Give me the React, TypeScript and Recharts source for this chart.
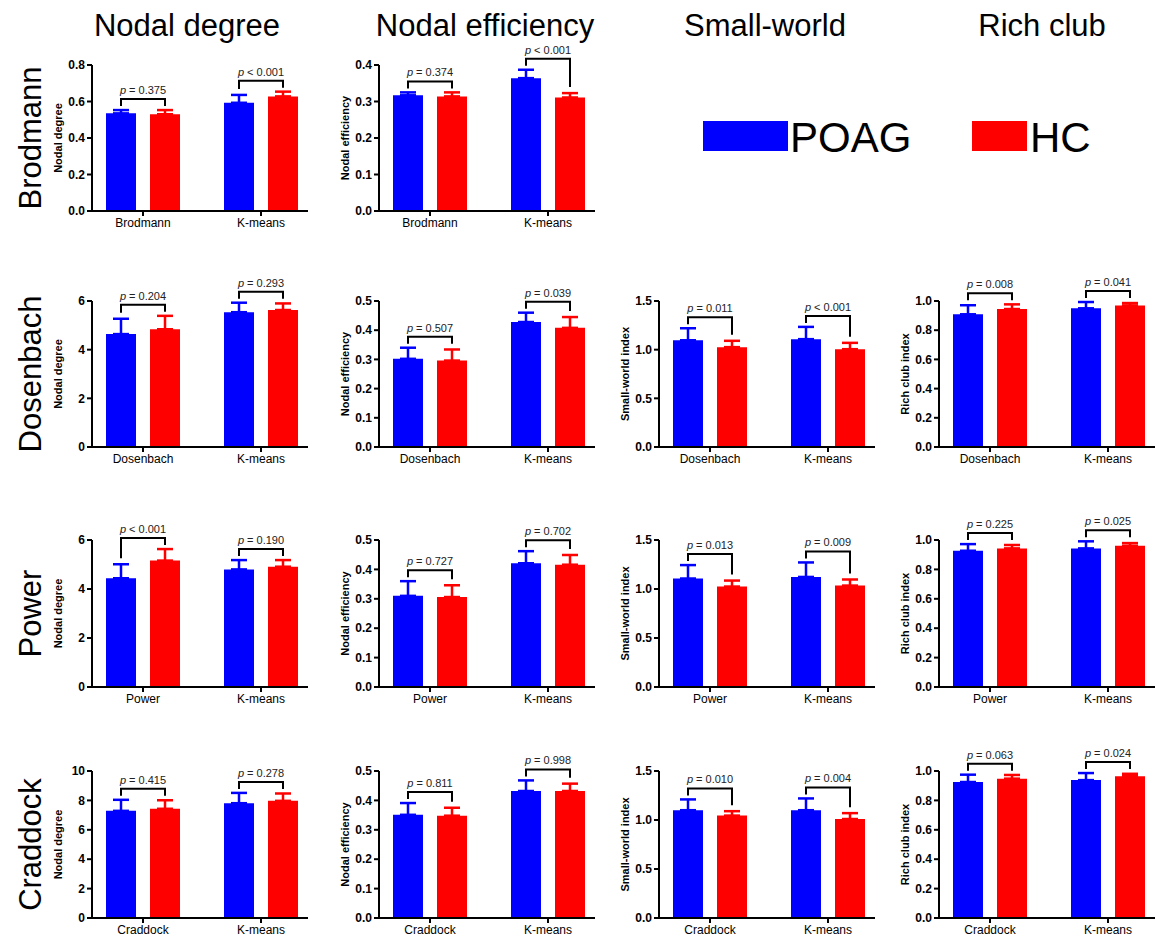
import React from "react";
import { BarChart, Bar, XAxis, YAxis, ErrorBar, Rectangle } from "recharts";

const FONT = "Arial, 'Liberation Sans', Helvetica, sans-serif";
const POAG_COLOR = "#0000ff";
const HC_COLOR = "#ff0000";

// rows of the figure
const atlases = ["Brodmann", "Dosenbach", "Power", "Craddock"];
const columnTitles = ["Nodal degree", "Nodal efficiency", "Small-world", "Rich club"];

// Nodal degree, one [atlas, K-means] pair per row
const degreePoag = [[0.535, 0.593], [4.64, 5.54], [4.44, 4.8], [7.29, 7.81]];
const degreePoagSd = [[0.018, 0.043], [0.63, 0.39], [0.57, 0.38], [0.75, 0.7]];
const degreeHc = [[0.53, 0.628], [4.84, 5.63], [5.16, 4.91], [7.43, 7.97]];
const degreeHcSd = [[0.023, 0.026], [0.55, 0.27], [0.47, 0.27], [0.58, 0.5]];
const degreeP = [["= 0.375", "< 0.001"], ["= 0.204", "= 0.293"], ["< 0.001", "= 0.190"], ["= 0.415", "= 0.278"]];
const degreeTicks = [[0, 0.2, 0.4, 0.6, 0.8], [0, 2, 4, 6], [0, 2, 4, 6], [0, 2, 4, 6, 8, 10]];

// Nodal efficiency
const effPoag = [[0.317, 0.364], [0.302, 0.428], [0.31, 0.421], [0.351, 0.432]];
const effPoagSd = [[0.008, 0.023], [0.038, 0.032], [0.05, 0.041], [0.04, 0.036]];
const effHc = [[0.314, 0.311], [0.296, 0.408], [0.306, 0.416], [0.348, 0.432]];
const effHcSd = [[0.011, 0.012], [0.038, 0.037], [0.04, 0.033], [0.027, 0.025]];
const effP = [["= 0.374", "< 0.001"], ["= 0.507", "= 0.039"], ["= 0.727", "= 0.702"], ["= 0.811", "= 0.998"]];
const effTicks = [[0, 0.1, 0.2, 0.3, 0.4], [0, 0.1, 0.2, 0.3, 0.4, 0.5], [0, 0.1, 0.2, 0.3, 0.4, 0.5], [0, 0.1, 0.2, 0.3, 0.4, 0.5]];

// Small-world index (no Brodmann row)
const swPoag = [[1.097, 1.108], [1.107, 1.123], [1.1, 1.1]];
const swPoagSd = [[0.123, 0.126], [0.137, 0.148], [0.11, 0.12]];
const swHc = [[1.026, 1.005], [1.025, 1.035], [1.045, 1.01]];
const swHcSd = [[0.065, 0.065], [0.061, 0.062], [0.045, 0.06]];
const swP = [["= 0.011", "< 0.001"], ["= 0.013", "= 0.009"], ["= 0.010", "= 0.004"]];
const swTicks = [0, 0.5, 1.0, 1.5];

// Rich club index (no Brodmann row)
const rcPoag = [[0.909, 0.95], [0.927, 0.943], [0.925, 0.938]];
const rcPoagSd = [[0.062, 0.043], [0.045, 0.048], [0.05, 0.048]];
const rcHc = [[0.945, 0.97], [0.943, 0.961], [0.948, 0.965]];
const rcHcSd = [[0.032, 0.016], [0.023, 0.018], [0.025, 0.016]];
const rcP = [["= 0.008", "= 0.041"], ["= 0.225", "= 0.025"], ["= 0.063", "= 0.024"]];
const rcTicks = [0, 0.2, 0.4, 0.6, 0.8, 1.0];

const colX = [92, 379, 659, 939];
const rowTop = [65, 301, 540, 771];
const rowH = [146, 146, 147, 147];

const BAR = 30;
const GAP = 14;
const YW = 60;
const PW = 216;
const MT = 25;
const XH = 30;

type PanelProps = {
  atlas: string;
  yLabel: string;
  ticks: number[];
  poag: number[];
  poagSd: number[];
  hc: number[];
  hcSd: number[];
  p: string[];
  left: number;
  top: number;
  plotH: number;
};

function Panel({ atlas, yLabel, ticks, poag, poagSd, hc, hcSd, p, left, top, plotH }: PanelProps) {
  const data = [atlas, "K-means"].map((name, i) => ({
    name,
    poag: poag[i],
    hc: hc[i],
    poagErr: [0, poagSd[i]],
    hcErr: [0, hcSd[i]],
    p: p[i],
  }));
  const max = ticks[ticks.length - 1];
  const fmt = (v: number) => (max <= 1.5 ? v.toFixed(1) : String(v));

  // HC bar also carries the significance bracket + p label for its group
  const hcShape = (props: any) => {
    const { x, y, width, height, payload } = props;
    const k = height / payload.hc;
    const base = y + height;
    const rx = x + width / 2;
    const bx = rx - (width + GAP);
    const bTop = base - (payload.poag + payload.poagErr[1]) * k;
    const rTop = base - (payload.hc + payload.hcErr[1]) * k;
    const bTopY = Math.min(bTop, rTop) - 11;
    const lEnd = Math.max(bTop - 6, bTopY + 7);
    const rEnd = Math.max(rTop - 6, bTopY + 7);
    return (
      <g>
        <Rectangle x={x} y={y} width={width} height={height} fill={HC_COLOR} />
        <path d={`M${bx},${lEnd}V${bTopY}H${rx}V${rEnd}`} stroke="#000" strokeWidth={2} fill="none" />
        <text x={(bx + rx) / 2} y={bTopY - 5} textAnchor="middle" fontSize={11} fontFamily={FONT} fill="#222">
          <tspan fontStyle="italic">p</tspan>
          <tspan>{" " + payload.p}</tspan>
        </text>
      </g>
    );
  };

  return (
    <div style={{ position: "absolute", left: left - YW, top: top - MT }}>
      <BarChart
        width={YW + PW + 20}
        height={MT + plotH + XH}
        data={data}
        margin={{ top: MT, right: 20, bottom: 0, left: 0 }}
        barSize={BAR}
        barGap={GAP}
      >
        <XAxis
          dataKey="name"
          padding={{ left: -8, right: -12 }}
          height={XH}
          interval={0}
          axisLine={{ stroke: "#000", strokeWidth: 2 }}
          tickLine={{ stroke: "#000", strokeWidth: 2 }}
          tickSize={5}
          tick={{ fontSize: 12, fontFamily: FONT, fill: "#000" }}
        />
        <YAxis
          width={YW}
          domain={[0, max]}
          ticks={ticks}
          interval={0}
          tickFormatter={fmt}
          axisLine={{ stroke: "#000", strokeWidth: 2 }}
          tickLine={{ stroke: "#000", strokeWidth: 2 }}
          tickSize={5}
          tickMargin={2}
          tick={{ fontSize: 12, fontWeight: "bold", fontFamily: FONT, fill: "#000" }}
          label={(lp: any) => {
            const vb = lp.viewBox;
            const cx = vb.x + vb.width - 34;
            const cy = vb.y + vb.height / 2;
            return (
              <text
                transform={`translate(${cx},${cy}) rotate(-90)`}
                textAnchor="middle"
                dominantBaseline="central"
                fontSize={11}
                fontWeight="bold"
                fontFamily={FONT}
                fill="#000"
              >
                {yLabel}
              </text>
            );
          }}
        />
        <Bar dataKey="poag" fill={POAG_COLOR} isAnimationActive={false}>
          <ErrorBar dataKey="poagErr" width={8} stroke={POAG_COLOR} strokeWidth={2.5} isAnimationActive={false} />
        </Bar>
        <Bar dataKey="hc" fill={HC_COLOR} shape={hcShape} isAnimationActive={false}>
          <ErrorBar dataKey="hcErr" width={8} stroke={HC_COLOR} strokeWidth={2.5} isAnimationActive={false} />
        </Bar>
      </BarChart>
    </div>
  );
}

export default function App() {
  const panels: React.ReactNode[] = [];
  atlases.forEach((atlas, r) => {
    const common = { atlas, top: rowTop[r], plotH: rowH[r] };
    panels.push(
      <Panel key={`d${r}`} {...common} left={colX[0]} yLabel="Nodal degree" ticks={degreeTicks[r]}
        poag={degreePoag[r]} poagSd={degreePoagSd[r]} hc={degreeHc[r]} hcSd={degreeHcSd[r]} p={degreeP[r]} />
    );
    panels.push(
      <Panel key={`e${r}`} {...common} left={colX[1]} yLabel="Nodal efficiency" ticks={effTicks[r]}
        poag={effPoag[r]} poagSd={effPoagSd[r]} hc={effHc[r]} hcSd={effHcSd[r]} p={effP[r]} />
    );
    if (r > 0) {
      panels.push(
        <Panel key={`s${r}`} {...common} left={colX[2]} yLabel="Small-world index" ticks={swTicks}
          poag={swPoag[r - 1]} poagSd={swPoagSd[r - 1]} hc={swHc[r - 1]} hcSd={swHcSd[r - 1]} p={swP[r - 1]} />
      );
      panels.push(
        <Panel key={`r${r}`} {...common} left={colX[3]} yLabel="Rich club index" ticks={rcTicks}
          poag={rcPoag[r - 1]} poagSd={rcPoagSd[r - 1]} hc={rcHc[r - 1]} hcSd={rcHcSd[r - 1]} p={rcP[r - 1]} />
      );
    }
  });

  const titleX = [187, 485, 765, 1042];

  return (
    <div style={{ position: "absolute", left: 0, top: 0, width: 1157, height: 941, background: "#fff", overflow: "hidden" }}>
      <svg width={1157} height={941} style={{ position: "absolute", left: 0, top: 0 }}>
        {columnTitles.map((t, i) => (
          <text key={t} x={titleX[i]} y={36} textAnchor="middle" fontSize={31} fontFamily={FONT} fill="#000">
            {t}
          </text>
        ))}
        {atlases.map((a, r) => (
          <text
            key={a}
            transform={`translate(41,${rowTop[r] + rowH[r] / 2}) rotate(-90)`}
            textAnchor="middle"
            fontSize={31}
            fontFamily={FONT}
            fill="#000"
          >
            {a}
          </text>
        ))}
        <rect x={703} y={121} width={85} height={30} fill={POAG_COLOR} />
        <text x={790} y={152} fontSize={42} fontFamily={FONT} fill="#000">POAG</text>
        <rect x={972} y={121} width={55} height={30} fill={HC_COLOR} />
        <text x={1030} y={152} fontSize={42} fontFamily={FONT} fill="#000">HC</text>
      </svg>
      {panels}
    </div>
  );
}
